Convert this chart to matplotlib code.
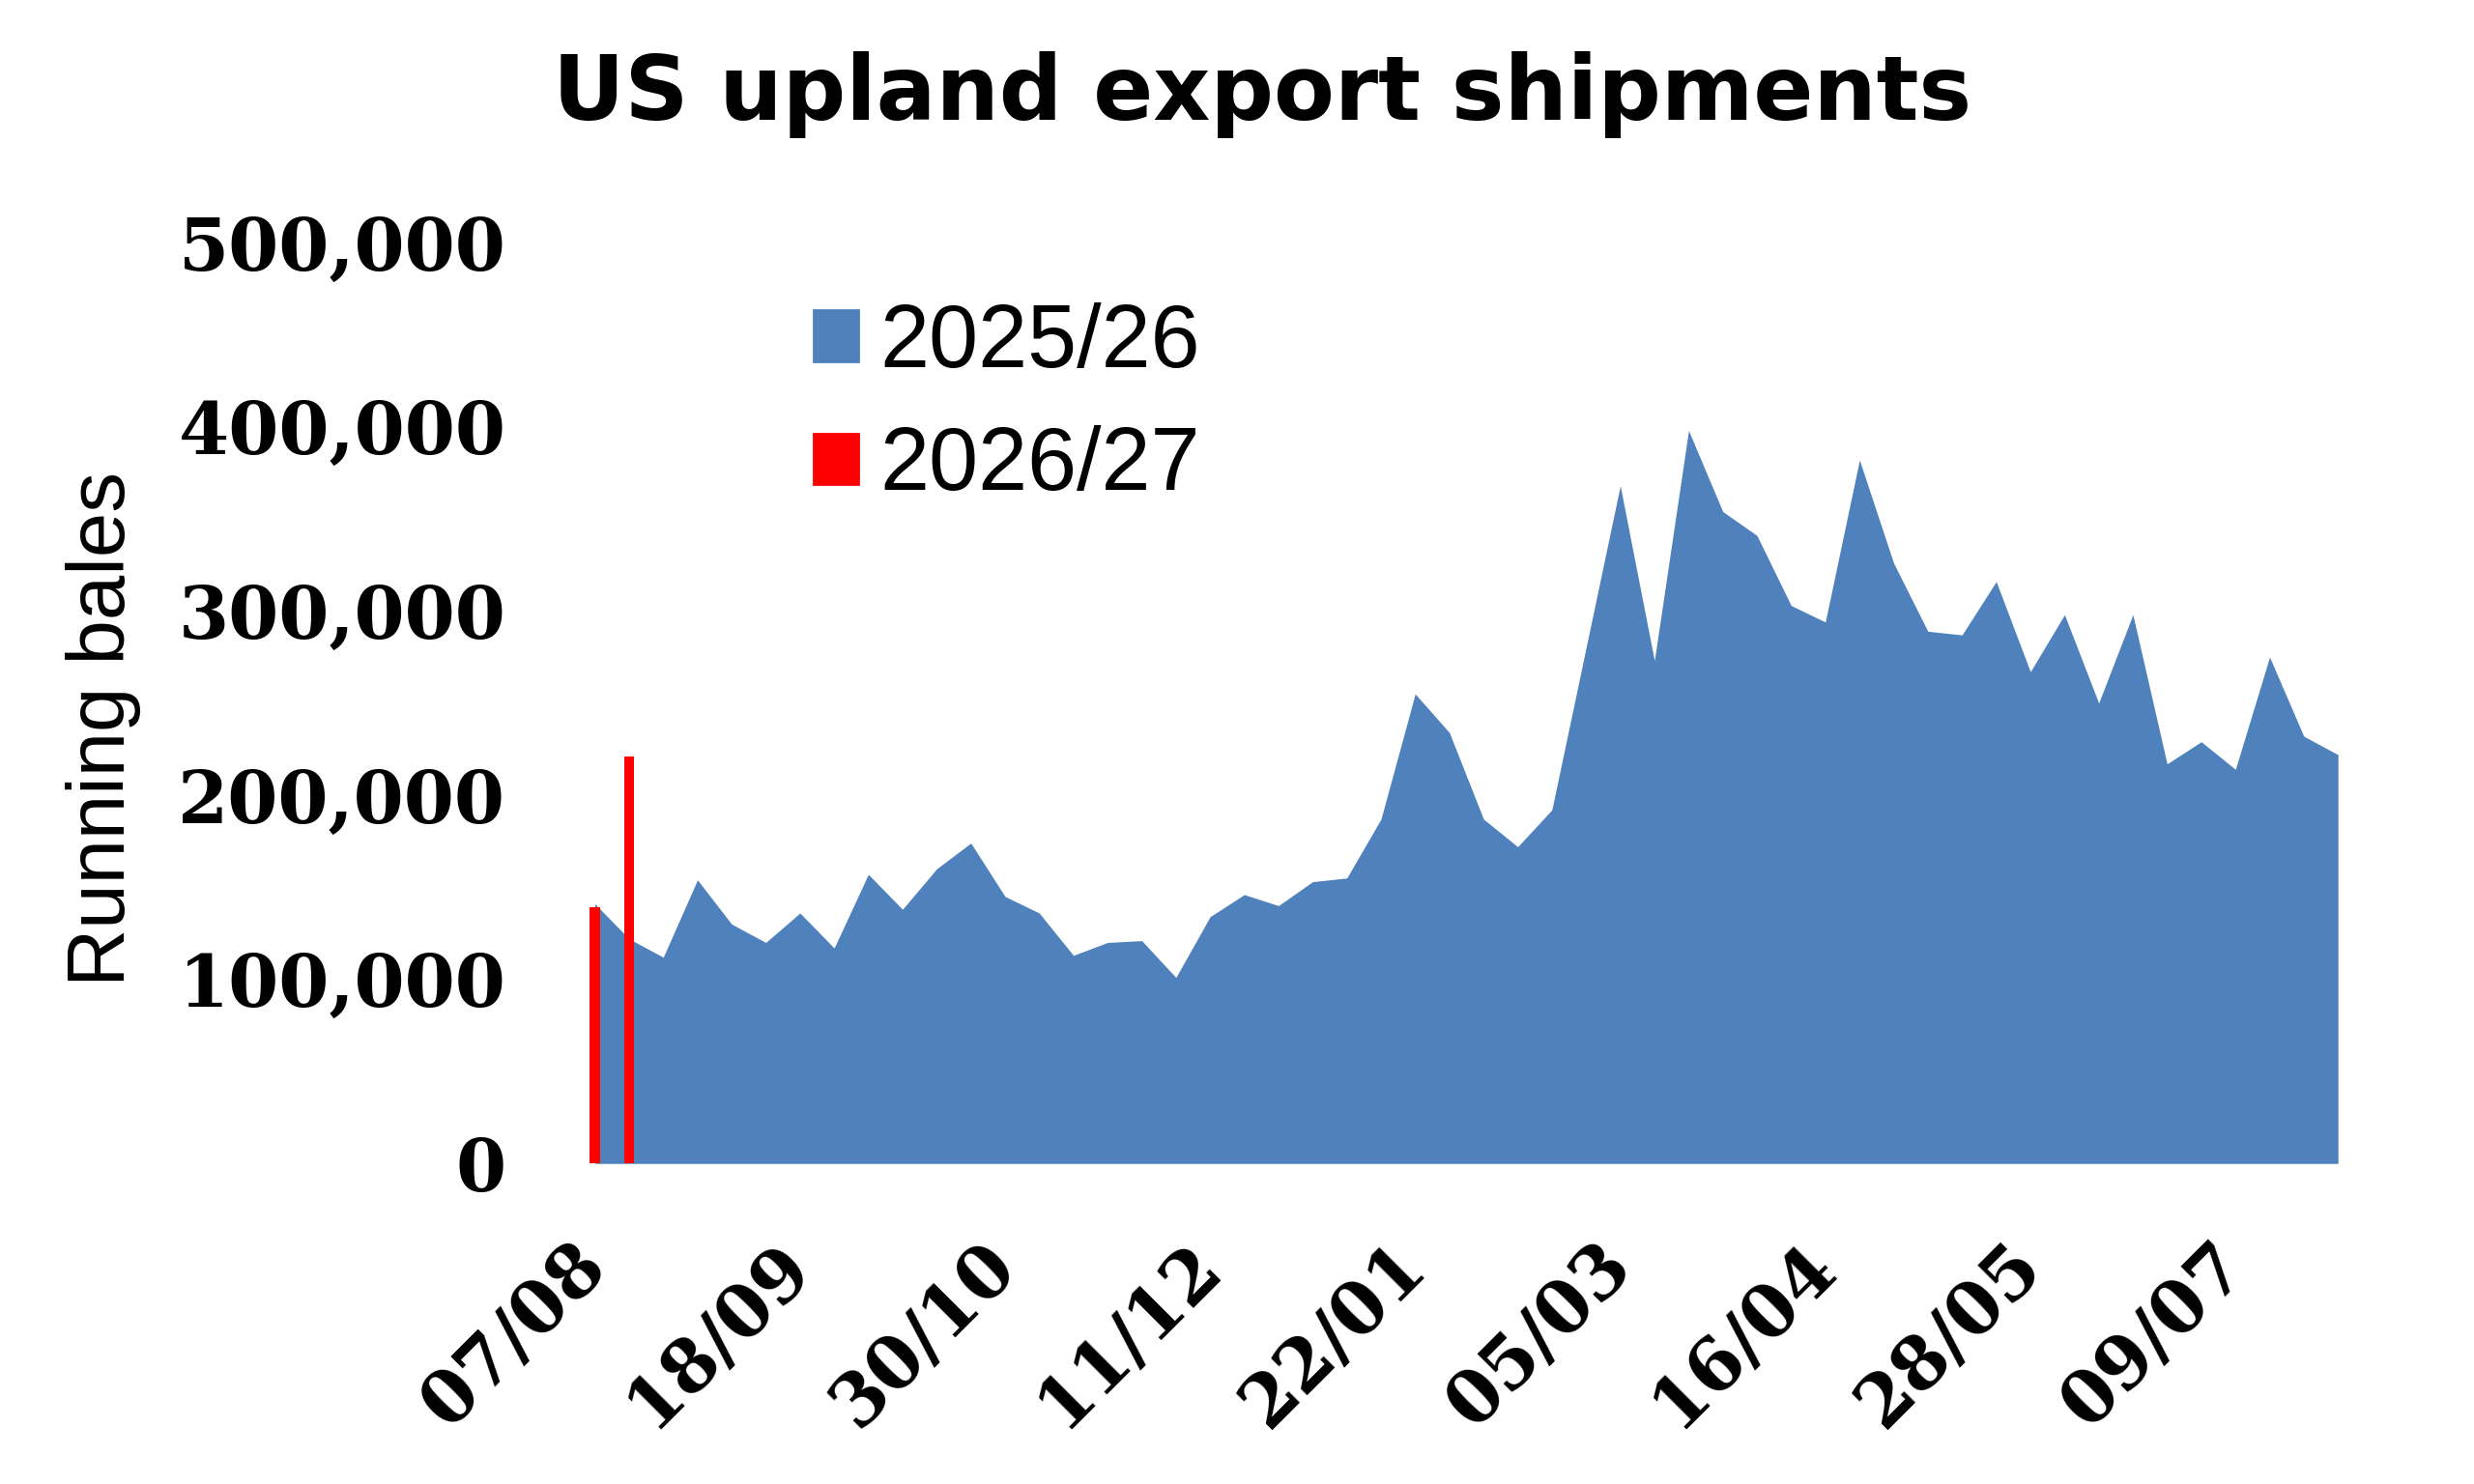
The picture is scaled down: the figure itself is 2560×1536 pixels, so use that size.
import matplotlib
matplotlib.use("Agg")
import matplotlib.pyplot as plt
from matplotlib.patches import Patch

# ==========================
# Data (weekly, running bales)
# ==========================
season_2526 = [141000, 122000, 112000, 154000, 130000, 120000, 136000, 117000,
               157000, 138000, 160000, 174000, 145000, 136000, 113000, 120000,
               121000, 101000, 134000, 146000, 140000, 153000, 155000, 187000,
               255000, 234000, 187000, 172000, 192000, 280000, 368000, 273000,
               398000, 354000, 341000, 303000, 294000, 382000, 326000, 289000,
               287000, 316000, 267000, 298000, 250000, 298000, 217000, 229000,
               214000, 275000, 232000, 222000]
season_2627 = [139000, 221000]

tick_labels = ["07/08", "18/09", "30/10", "11/12", "22/01",
               "05/03", "16/04", "28/05", "09/07"]
y_ticks = [0, 100000, 200000, 300000, 400000, 500000]

blue = "#4F81BD"
red = "#FF0000"

# ==========================
# Figure
# ==========================
fig = plt.figure(figsize=(12.8, 7.68), dpi=200)
ax = fig.add_axes([0.237, 0.216, 0.708, 0.6205])

weeks = list(range(len(season_2526)))
ax.fill_between(weeks, season_2526, 0, color=blue, linewidth=0, zorder=2)
ax.bar(list(range(len(season_2627))), season_2627, width=0.3,
       color=red, linewidth=0, zorder=3)

ax.set_xlim(-0.25, len(season_2526) - 1)
ax.set_ylim(0, 500000)

ax.set_yticks(y_ticks)
ax.set_yticklabels([f"{v:,}" for v in y_ticks], fontfamily="DejaVu Serif",
                   fontweight="semibold", fontsize=27)
ax.set_xticks(list(range(0, 6 * len(tick_labels), 6)))
ax.set_xticklabels(tick_labels, rotation=45, ha="right", va="center",
                   rotation_mode="anchor", fontfamily="DejaVu Serif",
                   fontweight="bold", fontsize=27)
ax.tick_params(axis="y", length=0, pad=30)
ax.tick_params(axis="x", length=0, pad=34)

for s in ax.spines.values():
    s.set_visible(False)

fig.text(0.51, 0.936, "US upland export shipments", ha="center", va="center",
         fontsize=33, fontweight="heavy", fontfamily="DejaVu Sans")
fig.text(0.0417, 0.509, "Running bales", rotation=90, ha="center",
         va="center", fontsize=30, fontfamily="Liberation Sans")

handles = [Patch(color=blue, label="2025/26"), Patch(color=red, label="2026/27")]
fig.legend(handles=handles, loc="upper left", bbox_to_anchor=(0.311, 0.826),
           frameon=False, handlelength=0.5, handleheight=0.5,
           handletextpad=0.25, labelspacing=0.45, borderpad=0,
           prop={"family": "Liberation Sans", "size": 33})

fig.savefig("out.png", dpi=200)
